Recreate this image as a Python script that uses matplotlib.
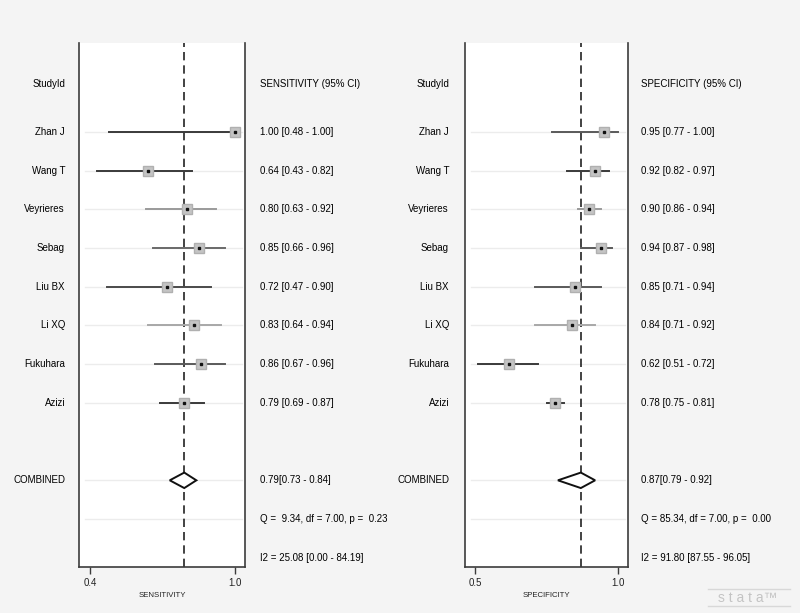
import numpy as np, matplotlib; matplotlib.use("Agg"); import matplotlib.pyplot as plt
import matplotlib.transforms as mtransforms
plt.rcParams.update({"font.family": ["Liberation Sans", "DejaVu Sans"], "font.size": 7})

studies = ["Zhan J", "Wang T", "Veyrieres", "Sebag", "Liu BX", "Li XQ", "Fukuhara", "Azizi"]
sens = [1.00, 0.64, 0.80, 0.85, 0.72, 0.83, 0.86, 0.79]
sens_lo = [0.48, 0.43, 0.63, 0.66, 0.47, 0.64, 0.67, 0.69]
sens_hi = [1.00, 0.82, 0.92, 0.96, 0.90, 0.94, 0.96, 0.87]
spec = [0.95, 0.92, 0.90, 0.94, 0.85, 0.84, 0.62, 0.78]
spec_lo = [0.77, 0.82, 0.86, 0.87, 0.71, 0.71, 0.51, 0.75]
spec_hi = [1.00, 0.97, 0.94, 0.98, 0.94, 0.92, 0.72, 0.81]
sens_pool = (0.79, 0.73, 0.84)
spec_pool = (0.87, 0.79, 0.92)
sens_q = "Q =  9.34, df = 7.00, p =  0.23"
spec_q = "Q = 85.34, df = 7.00, p =  0.00"
sens_i2 = "I2 = 25.08 [0.00 - 84.19]"
spec_i2 = "I2 = 91.80 [87.55 - 96.05]"

# line shades per study (rough weight cue)
sens_col = ["#3a3a3a", "#3a3a3a", "#9a9a9a", "#6a6a6a", "#4a4a4a", "#a8a8a8", "#5a5a5a", "#3a3a3a"]
spec_col = ["#5a5a5a", "#3a3a3a", "#9a9a9a", "#5a5a5a", "#5a5a5a", "#a8a8a8", "#3a3a3a", "#3a3a3a"]

fig = plt.figure(figsize=(8, 6.13), dpi=100, facecolor="#f4f4f4")

def panel(x0, w, xlim, ticks, ticklabels, xlabel, est, lo, hi, pool, q, i2, cols,
          lab_x, val_x, header):
    ax = fig.add_axes([x0, 0.075, w, 0.855])
    ax.set_facecolor("white")
    ax.set_xlim(*xlim)
    ax.set_ylim(11.24, -2.30)
    ax.spines["top"].set_visible(False)
    for s in ["left", "right", "bottom"]:
        ax.spines[s].set_color("#3c3c3c"); ax.spines[s].set_linewidth(1.2)
    ax.set_yticks([])
    ax.set_xticks(ticks); ax.set_xticklabels(ticklabels, fontsize=7, color="#222")
    ax.tick_params(axis="x", length=5, width=1, color="#3c3c3c", pad=3)
    ax.set_xlabel(xlabel, fontsize=5.6, labelpad=3, color="#222")
    rows = list(range(len(studies))) + [9, 10]
    span = xlim[1] - xlim[0]
    for r in rows:
        ax.plot([xlim[0] + 0.035 * span, xlim[1] - 0.02 * span], [r, r], color="#ececec", lw=1, zorder=1)
    ax.axvline(pool[0], color="#222", lw=1.2, ls=(0, (5, 3)), zorder=2)
    for i in range(len(studies)):
        ax.plot([lo[i], hi[i]], [i, i], color=cols[i], lw=1.4, zorder=3)
        ax.plot(est[i], i, "s", ms=6.5, mfc="#c4c4c4", mec="#b0b0b0", zorder=4)
        ax.plot(est[i], i, "s", ms=1.8, color="#111", zorder=5)
    m, l, h = pool
    ax.fill([l, m, h, m, l], [9, 8.8, 9, 9.2, 9], facecolor="white", edgecolor="#111", lw=1.4, zorder=4)
    tr = mtransforms.blended_transform_factory(fig.transFigure, ax.transData)
    ax.text(lab_x, -1.24, "StudyId", transform=tr, ha="right", va="center")
    for i, s in enumerate(studies):
        ax.text(lab_x, i, s, transform=tr, ha="right", va="center")
        ax.text(val_x, i, f"{est[i]:.2f} [{lo[i]:.2f} - {hi[i]:.2f}]", transform=tr, ha="left", va="center")
    ax.text(lab_x, 9, "COMBINED", transform=tr, ha="right", va="center")
    ax.text(val_x, -1.24, header, transform=tr, ha="left", va="center")
    ax.text(val_x, 9, f"{m:.2f}[{l:.2f} - {h:.2f}]", transform=tr, ha="left", va="center")
    ax.text(val_x, 10, q, transform=tr, ha="left", va="center")
    ax.text(val_x, 11, i2, transform=tr, ha="left", va="center")
    return ax

panel(0.09875, 0.2075, (0.3545, 1.0413), [0.4, 1.0], ["0.4", "1.0"], "SENSITIVITY",
      sens, sens_lo, sens_hi, sens_pool, sens_q, sens_i2, sens_col,
      65 / 800, 260 / 800, "SENSITIVITY (95% CI)")
panel(465 / 800, 163 / 800, (0.465, 1.035), [0.5, 1.0], ["0.5", "1.0"], "SPECIFICITY",
      spec, spec_lo, spec_hi, spec_pool, spec_q, spec_i2, spec_col,
      449 / 800, 641 / 800, "SPECIFICITY (95% CI)")

# stata logo
fig.add_artist(plt.Line2D([708 / 800, 790 / 800], [1 - 589 / 613] * 2, color="#d8d8d8", lw=1))
fig.add_artist(plt.Line2D([708 / 800, 790 / 800], [1 - 606 / 613] * 2, color="#d8d8d8", lw=1))
fig.text(748 / 800, 1 - 598 / 613, "s t a t a\u2122", ha="center", va="center", fontsize=10, color="#c4c4c4")

fig.savefig("out.png", dpi=100, facecolor=fig.get_facecolor())
